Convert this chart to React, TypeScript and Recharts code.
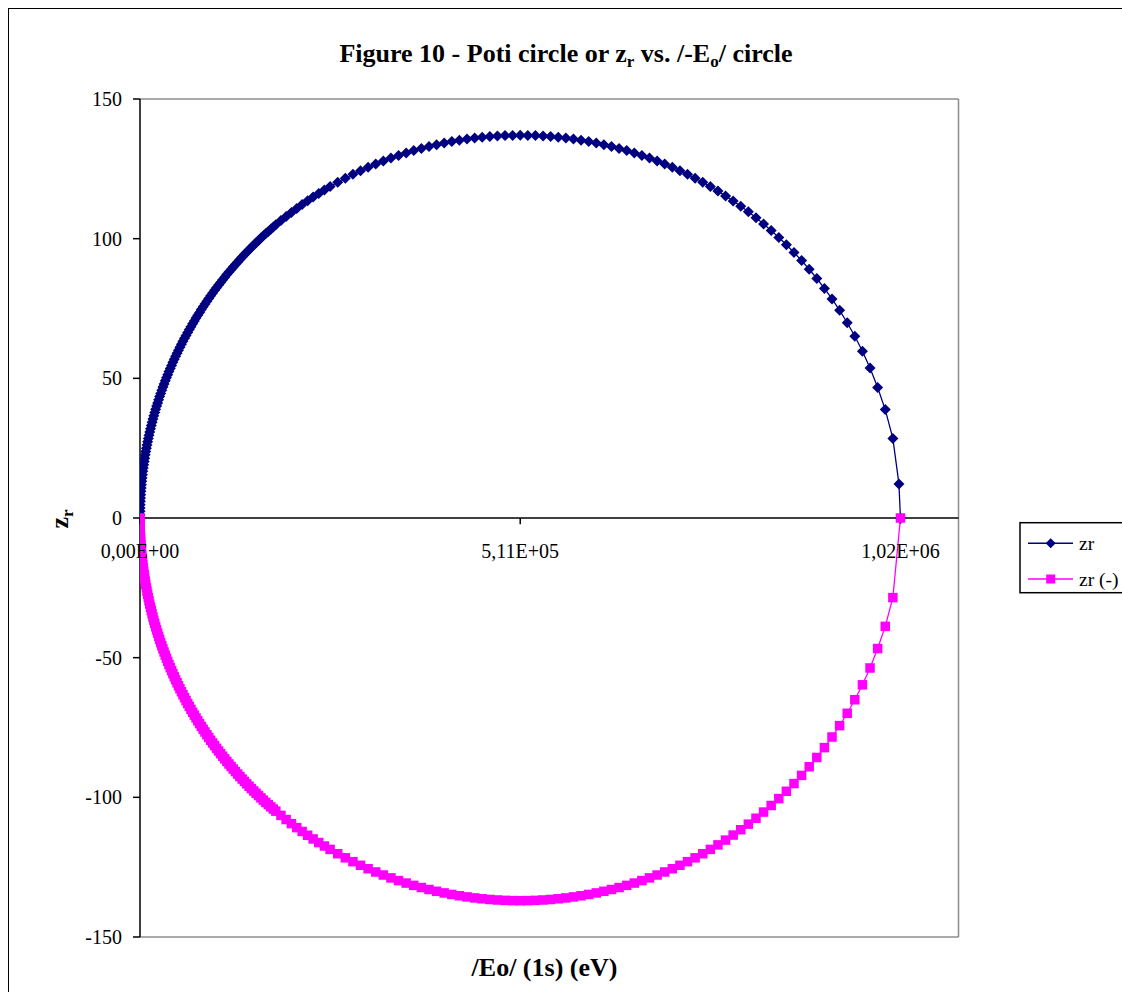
import React from 'react';
import { ScatterChart, Scatter, XAxis, YAxis, ReferenceLine, ReferenceDot } from 'recharts';

const FONT = "'Times New Roman', 'Liberation Serif', serif";

// /Eo/ (eV) values along the dense left part of the circle (shared by both series)
const eoLeft = [0, 19, 78, 175, 311, 486, 700, 953, 1245, 1575, 1944, 2353, 2799, 3285, 3809, 4372, 4973, 5613, 6291, 7008,
  7763, 8557, 9389, 10258, 11166, 12113, 13097, 14119, 15179, 16276, 17412, 18585, 19795, 21043, 22328, 23651, 25010, 26406,
  27840, 29310, 30817, 32361, 33941, 35556, 37209, 38897, 40622, 42382, 44179, 46010, 47877, 49779, 51716, 53689, 55695,
  57737, 59814, 61925, 64069, 66248, 68461, 70708, 72988, 75301, 77647, 80027, 82439, 84884, 87362, 89872, 92413, 94987,
  97592, 100229, 102897, 105597, 108326, 111089, 113878, 116700, 119551, 122433, 125343, 128283, 131253, 134251, 137278,
  140334, 143417, 146529, 149668, 152836, 156030, 159251, 162499, 165774, 169074, 172401, 175754, 179132, 182535,
  189417, 196397, 203473, 210642, 217903, 225252, 232689, 240211, 247816, 255500];
const zrLeft = [0, 1.2, 2.39, 3.59, 4.78, 5.98, 7.17, 8.36, 9.56, 10.75, 11.94, 13.13, 14.32, 15.51, 16.7, 17.88, 19.07, 20.25,
  21.43, 22.61, 23.79, 24.97, 26.14, 27.31, 28.48, 29.65, 30.82, 31.98, 33.14, 34.3, 35.46, 36.61, 37.76, 38.91, 40.06, 41.2,
  42.34, 43.47, 44.6, 45.73, 46.86, 47.98, 49.1, 50.21, 51.32, 52.43, 53.53, 54.63, 55.72, 56.81, 57.9, 58.98, 60.06, 61.13,
  62.2, 63.26, 64.32, 65.37, 66.42, 67.46, 68.5, 69.53, 70.56, 71.58, 72.6, 73.61, 74.62, 75.62, 76.61, 77.6, 78.58, 79.56,
  80.53, 81.49, 82.45, 83.4, 84.35, 85.28, 86.22, 87.14, 88.06, 88.97, 89.88, 90.78, 91.67, 92.56, 93.43, 94.3, 95.17,
  96.02, 96.87, 97.72, 98.55, 99.38, 100.2, 101.01, 101.81, 102.61, 103.4, 104.18, 104.95,
  106.47, 107.96, 109.41, 110.84, 112.22, 113.58, 114.9, 116.18, 117.43, 118.64];
const zrNegLeft = [0, -1.2, -2.39, -3.59, -4.78, -5.98, -7.17, -8.36, -9.56, -10.75, -11.94, -13.13, -14.32, -15.51, -16.7,
  -17.88, -19.07, -20.25, -21.43, -22.61, -23.79, -24.97, -26.14, -27.31, -28.48, -29.65, -30.82, -31.98, -33.14, -34.3,
  -35.46, -36.61, -37.76, -38.91, -40.06, -41.2, -42.34, -43.47, -44.6, -45.73, -46.86, -47.98, -49.1, -50.21, -51.32,
  -52.43, -53.53, -54.63, -55.72, -56.81, -57.9, -58.98, -60.06, -61.13, -62.2, -63.26, -64.32, -65.37, -66.42, -67.46,
  -68.5, -69.53, -70.56, -71.58, -72.6, -73.61, -74.62, -75.62, -76.61, -77.6, -78.58, -79.56, -80.53, -81.49, -82.45,
  -83.4, -84.35, -85.28, -86.22, -87.14, -88.06, -88.97, -89.88, -90.78, -91.67, -92.56, -93.43, -94.3, -95.17, -96.02,
  -96.87, -97.72, -98.55, -99.38, -100.2, -101.01, -101.81, -102.61, -103.4, -104.18, -104.95,
  -106.47, -107.96, -109.41, -110.84, -112.22, -113.58, -114.9, -116.18, -117.43, -118.64];

// Regularly spaced part (top and right of the circle)
const eoGridUpper = [265720, 275940, 286160, 296380, 306600, 316820,
  327040, 337260, 347480, 357700, 367920, 378140, 388360, 398580, 408800, 419020, 429240, 439460, 449680, 459900, 470120,
  480340, 490560, 500780, 511000, 521220, 531440, 541660, 551880, 562100, 572320, 582540, 592760, 602980, 613200, 623420,
  633640, 643860, 654080, 664300, 674520, 684740, 694960, 705180, 715400, 725620, 735840, 746060, 756280, 766500, 776720,
  786940, 797160, 807380, 817600, 827820, 838040, 848260, 858480, 868700, 878920, 889140, 899360, 909580, 919800, 930020,
  940240, 950460, 960680, 970900, 981120, 991340, 1001560, 1011780, 1019956, 1022000];
const zrGridUpper = [120.19, 121.65, 123.03, 124.33, 125.56, 126.72,
  127.81, 128.84, 129.8, 130.69, 131.52, 132.29, 132.99, 133.64, 134.23, 134.76, 135.24, 135.65, 136.01, 136.31, 136.56,
  136.75, 136.89, 136.97, 137.0, 136.97, 136.89, 136.75, 136.56, 136.31, 136.01, 135.65, 135.24, 134.76, 134.23, 133.64,
  132.99, 132.29, 131.52, 130.69, 129.8, 128.84, 127.81, 126.72, 125.56, 124.33, 123.03, 121.65, 120.19, 118.64, 117.02,
  115.31, 113.5, 111.6, 109.6, 107.49, 105.27, 102.92, 100.45, 97.84, 95.07, 92.15, 89.04, 85.73, 82.2, 78.41, 74.33, 69.91,
  65.07, 59.72, 53.69, 46.74, 38.8, 28.5, 12.2, 0];
const eoGridLower = [265720, 275940, 286160, 296380, 306600, 316820,
  327040, 337260, 347480, 357700, 367920, 378140, 388360, 398580, 408800, 419020, 429240, 439460, 449680, 459900, 470120,
  480340, 490560, 500780, 511000, 521220, 531440, 541660, 551880, 562100, 572320, 582540, 592760, 602980, 613200, 623420,
  633640, 643860, 654080, 664300, 674520, 684740, 694960, 705180, 715400, 725620, 735840, 746060, 756280, 766500, 776720,
  786940, 797160, 807380, 817600, 827820, 838040, 848260, 858480, 868700, 878920, 889140, 899360, 909580, 919800, 930020,
  940240, 950460, 960680, 970900, 981120, 991340, 1001560, 1011780, 1022000];
const zrGridLower = [-120.19, -121.65, -123.03, -124.33, -125.56,
  -126.72, -127.81, -128.84, -129.8, -130.69, -131.52, -132.29, -132.99, -133.64, -134.23, -134.76, -135.24, -135.65,
  -136.01, -136.31, -136.56, -136.75, -136.89, -136.97, -137.0, -136.97, -136.89, -136.75, -136.56, -136.31, -136.01,
  -135.65, -135.24, -134.76, -134.23, -133.64, -132.99, -132.29, -131.52, -130.69, -129.8, -128.84, -127.81, -126.72,
  -125.56, -124.33, -123.03, -121.65, -120.19, -118.64, -117.02, -115.31, -113.5, -111.6, -109.6, -107.49, -105.27,
  -102.92, -100.45, -97.84, -95.07, -92.15, -89.04, -85.73, -82.2, -78.41, -74.33, -69.91, -65.07, -59.72, -53.69,
  -46.74, -38.8, -28.5, 0];

const xTicks = [0, 511000, 1022000];
const xDomain = [0, 1100000];
const yTicks = [-150, -100, -50, 0, 50, 100, 150];
const seriesNames = ['zr', 'zr (-)'];
const seriesColors = ['#000080', '#FF00FF'];

const zip = (xs: number[], ys: number[]) => xs.map((x, i) => ({ x, y: ys[i] }));
const zrData = [...zip(eoLeft, zrLeft), ...zip(eoGridUpper, zrGridUpper)];
const zrNegData = [...zip(eoLeft, zrNegLeft), ...zip(eoGridLower, zrGridLower)];

const fmtSci = (v: number) =>
  v.toExponential(2).replace('.', ',').replace(/e([+-])(\d+)$/, (_m, s, d) => 'E' + s + (d.length < 2 ? '0' + d : d));

const Diamond = (p: any) => {
  const { cx, cy } = p;
  if (cx == null || cy == null) return null;
  const s = 5.5;
  return <path d={`M${cx},${cy - s}L${cx + s},${cy}L${cx},${cy + s}L${cx - s},${cy}Z`} fill={seriesColors[0]} />;
};
const Square = (p: any) => {
  const { cx, cy } = p;
  if (cx == null || cy == null) return null;
  const s = 4.75;
  return <rect x={cx - s} y={cy - s} width={2 * s} height={2 * s} fill={seriesColors[1]} />;
};

export default function App() {
  return (
    <div style={{ width: 1122, height: 992, boxSizing: 'border-box', padding: '8px 0 0 8px', overflow: 'hidden' }}>
      <style>{'html, body { margin: 0; padding: 0; overflow: hidden; }'}</style>
      <div
        style={{
          position: 'relative',
          width: 1114,
          height: 984,
          boxSizing: 'border-box',
          borderLeft: '1px solid #000',
          borderTop: '1px solid #000',
          overflow: 'hidden',
          background: '#fff',
          fontFamily: FONT,
        }}
      >
        <div style={{ position: 'absolute', left: 0, top: 0 }}>
          <ScatterChart width={1110} height={985} margin={{ top: 90, right: 160.5, bottom: 57, left: 71 }}>
            <XAxis type="number" dataKey="x" domain={xDomain} ticks={xTicks} hide allowDataOverflow />
            <YAxis
              type="number"
              dataKey="y"
              domain={[-150, 150]}
              ticks={yTicks}
              interval={0}
              width={60}
              tickSize={7}
              tickMargin={11}
              axisLine={{ stroke: '#000', strokeWidth: 1.5 }}
              tickLine={{ stroke: '#000', strokeWidth: 1.5 }}
              tick={{ fill: '#000', fontSize: 20, fontFamily: FONT }}
              allowDataOverflow
            />
            <ReferenceLine y={150} stroke="#8c8c8c" strokeWidth={1.5} />
            <ReferenceLine y={-150} stroke="#8c8c8c" strokeWidth={1.5} />
            <ReferenceLine x={xDomain[1]} stroke="#8c8c8c" strokeWidth={1.5} />
            <ReferenceLine y={0} stroke="#000" strokeWidth={1.5} />
            {xTicks.map((t) => (
              <ReferenceLine
                key={'tk' + t}
                segment={[{ x: t, y: 0 }, { x: t, y: -2.2 }]}
                stroke="#000"
                strokeWidth={1.5}
              />
            ))}
            <Scatter
              name={seriesNames[0]}
              data={zrData}
              shape={Diamond}
              line={{ stroke: seriesColors[0], strokeWidth: 1.3 }}
              lineType="joint"
              isAnimationActive={false}
            />
            <Scatter
              name={seriesNames[1]}
              data={zrNegData}
              shape={Square}
              line={{ stroke: seriesColors[1], strokeWidth: 1.3 }}
              lineType="joint"
              isAnimationActive={false}
            />
            {xTicks.map((t) => (
              <ReferenceDot
                key={'lb' + t}
                x={t}
                y={0}
                r={1}
                fill="none"
                stroke="none"
                label={{ value: fmtSci(t), position: 'bottom', offset: 25, fill: '#000', fontSize: 20, fontFamily: FONT }}
              />
            ))}
          </ScatterChart>
        </div>
        <svg
          width={1113}
          height={983}
          style={{ position: 'absolute', left: 0, top: 0, pointerEvents: 'none', overflow: 'hidden' }}
          fontFamily={FONT}
        >
          <text x={557} y={53} textAnchor="middle" fontSize={26} fontWeight="bold" fill="#000">
            Figure 10 - Poti circle or z
            <tspan fontSize={17} dy={5}>r</tspan>
            <tspan dy={-5}> vs. /-E</tspan>
            <tspan fontSize={17} dy={5}>o</tspan>
            <tspan dy={-5}>/ circle</tspan>
          </text>
          <text x={535.5} y={967} textAnchor="middle" fontSize={26} fontWeight="bold" fill="#000">
            /Eo/ (1s) (eV)
          </text>
          <text transform="translate(59,510) rotate(-90)" textAnchor="middle" fontSize={26} fontWeight="bold" fill="#000">
            z<tspan fontSize={17} dy={5}>r</tspan>
          </text>
          <g>
            <rect x={1011} y={513.7} width={150} height={70} fill="#fff" stroke="#000" strokeWidth={1.5} />
            <line x1={1019} x2={1064} y1={534.3} y2={534.3} stroke={seriesColors[0]} strokeWidth={1.5} />
            <path d="M1041.7,529.3L1046.7,534.3L1041.7,539.3L1036.7,534.3Z" fill={seriesColors[0]} />
            <text x={1070} y={541} fontSize={19.5} fill="#000">{seriesNames[0]}</text>
            <line x1={1019} x2={1064} y1={570} y2={570} stroke={seriesColors[1]} strokeWidth={1.5} />
            <rect x={1037.2} y={565.5} width={9} height={9} fill={seriesColors[1]} />
            <text x={1070} y={576.5} fontSize={19.5} fill="#000">{seriesNames[1]}</text>
          </g>
        </svg>
      </div>
    </div>
  );
}
